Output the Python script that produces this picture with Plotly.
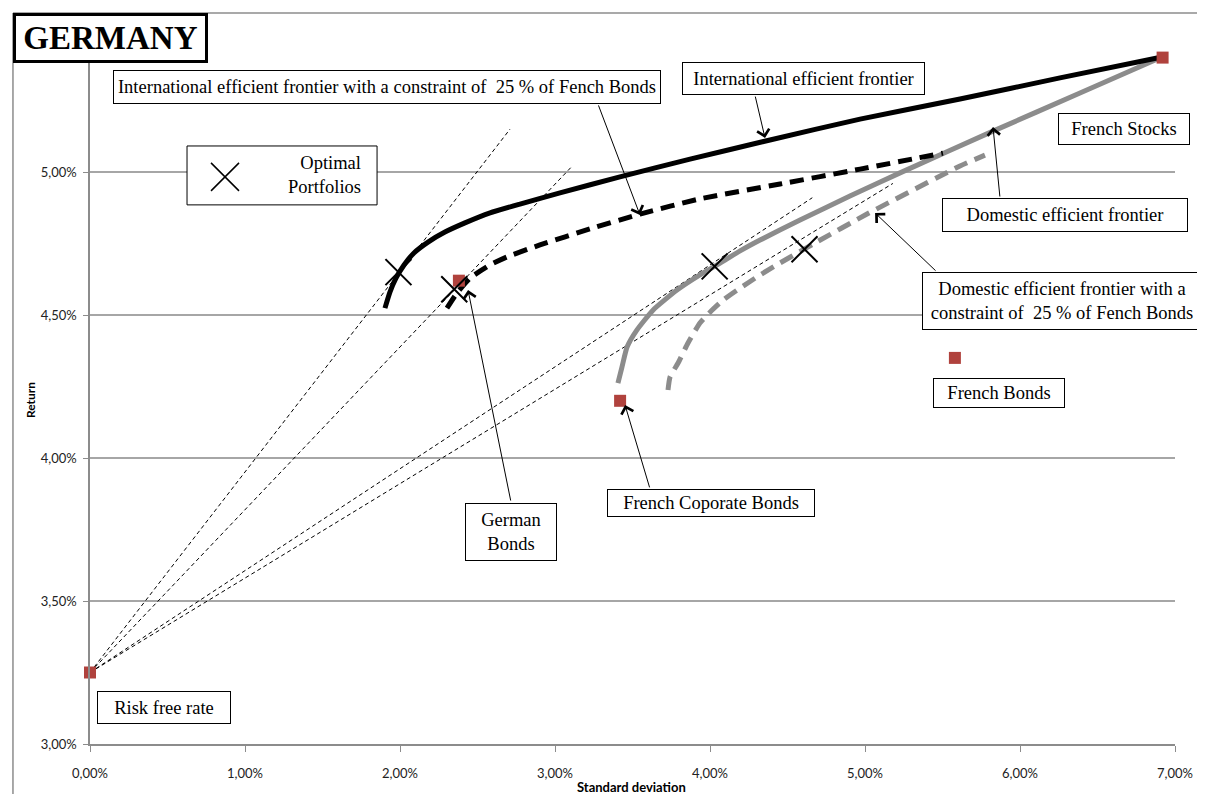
import numpy as np
import plotly.graph_objects as go

# all values in percent
intl_sd = [1.903, 1.935, 1.974, 2.026, 2.090, 2.181, 2.290, 2.419, 2.581, 2.774, 3.032, 3.419,
           3.871, 4.387, 4.968, 5.613, 6.258, 6.916]
intl_ret = [4.524, 4.580, 4.629, 4.675, 4.717, 4.755, 4.790, 4.822, 4.857, 4.888, 4.927, 4.983,
            5.045, 5.112, 5.185, 5.255, 5.329, 5.402]

intl_c_sd = [2.303, 2.368, 2.452, 2.581, 2.690, 2.903, 3.226, 3.548, 3.935, 4.452, 4.968, 5.503]
intl_c_ret = [4.524, 4.577, 4.629, 4.675, 4.703, 4.745, 4.801, 4.853, 4.906, 4.958, 5.010, 5.066]

dom_sd = [3.406, 3.432, 3.465, 3.529, 3.632, 3.787, 3.935, 4.045, 4.194, 4.323, 4.581, 4.903,
          5.226, 5.826, 6.387, 6.916]
dom_ret = [4.262, 4.318, 4.388, 4.448, 4.517, 4.587, 4.640, 4.675, 4.724, 4.762, 4.832, 4.916,
           4.997, 5.143, 5.276, 5.402]

dom_c_sd = [3.729, 3.742, 3.794, 3.858, 3.935, 4.000, 4.084, 4.194, 4.323, 4.452, 4.581, 4.665,
            5.013, 5.613, 5.774]
dom_c_ret = [4.238, 4.283, 4.332, 4.402, 4.472, 4.510, 4.552, 4.594, 4.640, 4.682, 4.722, 4.748,
             4.853, 5.021, 5.059]

assets = ["Risk free rate", "German Bonds", "French Coporate Bonds", "French Bonds", "French Stocks"]
asset_sd = [0.00, 2.38, 3.42, 5.58, 6.92]
asset_ret = [3.25, 4.62, 4.20, 4.35, 5.40]

optimal_sd = [1.99, 2.35, 4.03, 4.61]
optimal_ret = [4.65, 4.59, 4.67, 4.73]

# capital market lines from the risk free rate, end points
cml_end_sd = [2.71, 3.11, 4.66, 5.18]
cml_end_ret = [5.15, 5.02, 4.91, 4.96]

x_ticks = [0, 1, 2, 3, 4, 5, 6, 7]
y_ticks = [3.0, 3.5, 4.0, 4.5, 5.0, 5.5]
y_ticktext = ["3,00%", "3,50%", "4,00%", "4,50%", "5,00%", ""]  # 5,50% sits under the title box

rf_sd, rf_ret = asset_sd[0], asset_ret[0]


def pct(v):
    return np.array(v) / 100.0


SERIF = "Liberation Serif"
SANS = "Lato"
BOX_FONT = dict(family=SERIF, size=18.5, color="black")

fig = go.Figure()

for esd, eret in zip(cml_end_sd, cml_end_ret):
    fig.add_trace(go.Scatter(x=pct([rf_sd, esd]), y=pct([rf_ret, eret]), mode="lines",
                             line=dict(color="black", width=1, dash="4px,3px")))

fig.add_trace(go.Scatter(x=pct(dom_sd), y=pct(dom_ret), mode="lines",
                         line=dict(color="#8c8c8c", width=5, shape="spline", smoothing=0.5)))
fig.add_trace(go.Scatter(x=pct(dom_c_sd), y=pct(dom_c_ret), mode="lines",
                         line=dict(color="#8c8c8c", width=5, dash="14px,8px", shape="spline", smoothing=0.5)))
fig.add_trace(go.Scatter(x=pct(intl_sd), y=pct(intl_ret), mode="lines",
                         line=dict(color="black", width=5, shape="spline", smoothing=0.5)))
fig.add_trace(go.Scatter(x=pct(intl_c_sd), y=pct(intl_c_ret), mode="lines",
                         line=dict(color="black", width=5, dash="14px,8px", shape="spline", smoothing=0.5)))

fig.add_trace(go.Scatter(x=pct(asset_sd), y=pct(asset_ret), mode="markers", text=assets,
                         marker=dict(symbol="square", size=12, color="#b0423d"),
                         cliponaxis=False))
fig.add_trace(go.Scatter(x=pct(optimal_sd), y=pct(optimal_ret), mode="markers",
                         marker=dict(symbol="x-thin", size=26, line=dict(color="black", width=2))))
# key of the "Optimal Portfolios" box
fig.add_trace(go.Scatter(x=[0.00871], y=[0.04983], mode="markers",
                         marker=dict(symbol="x-thin", size=28, line=dict(color="black", width=1.5))))

boxes = [
    ("International efficient frontier with a constraint of  25 % of Fench Bonds", 1.916, 5.297, 546, 32),
    ("International efficient frontier", 4.600, 5.326, 241, 31),
    ("French Stocks", 6.671, 5.150, 130, 30),
    ("Domestic efficient frontier", 6.290, 4.850, 244, 32),
    ("Domestic efficient frontier with a<br>constraint of  25 % of Fench Bonds", 6.271, 4.549, 278, 56),
    ("French Bonds", 5.865, 4.227, 130, 28),
    ("French Coporate Bonds", 4.006, 3.843, 206, 26),
    ("German<br>Bonds", 2.716, 3.741, 90, 56),
    ("Risk free rate", 0.477, 3.128, 132, 31),
]

arrows = [
    (3.277, 5.238, 3.548, 4.850),
    (4.290, 5.269, 4.355, 5.119),
    (5.871, 4.909, 5.826, 5.157),
    (5.465, 4.650, 5.065, 4.857),
    (3.613, 3.892, 3.452, 4.185),
    (2.716, 3.846, 2.439, 4.587),
]

annotations = []
for (tx, ty, hx, hy) in arrows:
    annotations.append(dict(x=hx / 100, y=hy / 100, ax=tx / 100, ay=ty / 100,
                            xref="x", yref="y", axref="x", ayref="y", text="",
                            showarrow=True, arrowhead=4, arrowsize=2.4, arrowwidth=1,
                            arrowcolor="black"))
for text, bx, by, w, h in boxes:
    annotations.append(dict(x=bx / 100, y=by / 100, xref="x", yref="y", text=text,
                            xanchor="center", yanchor="middle",
                            showarrow=False, width=w, height=h, align="center", valign="middle",
                            bgcolor="white", bordercolor="black", borderwidth=1, borderpad=0,
                            font=BOX_FONT))

annotations.append(dict(x=0.01762, y=0.04988, xref="x", yref="y", text="Optimal<br>Portfolios",
                        xanchor="right", yanchor="middle", align="right", showarrow=False,
                        font=BOX_FONT))
annotations.append(dict(x=0.0189, y=0.9874, xref="paper", yref="paper", text="<b>GERMANY</b>",
                        xanchor="center", yanchor="middle",
                        showarrow=False, width=189, height=44, bgcolor="white",
                        bordercolor="black", borderwidth=3, borderpad=0,
                        font=dict(family=SERIF, size=33, color="black")))
annotations.append(dict(x=0.4995, y=-0.0601, xref="paper", yref="paper", text="<b>Standard deviation</b>",
                        xanchor="center", yanchor="middle",
                        showarrow=False, font=dict(family=SANS, size=13, color="black")))
annotations.append(dict(x=-0.0553, y=0.481, xref="paper", yref="paper", text="<b>Return</b>",
                        xanchor="center", yanchor="middle",
                        showarrow=False, textangle=-90, font=dict(family=SANS, size=12, color="black")))

frame = dict(type="line", xref="paper", yref="paper", line=dict(color="#8c8c8c", width=1.5))
shapes = [
    dict(frame, x0=-0.071, y0=1.0224, x1=1.03, y1=1.0224),
    dict(frame, x0=-0.071, y0=1.0224, x1=-0.071, y1=-0.08),
    # box around the "Optimal Portfolios" key, under the traces
    dict(type="rect", xref="x", yref="y", x0=0.00626, x1=0.01852, y0=0.04885, y1=0.05091,
         layer="between", fillcolor="white", line=dict(color="black", width=1)),
]

fig.update_layout(
    width=1197, height=786,
    margin=dict(l=82, r=30, t=21, b=50),
    paper_bgcolor="white", plot_bgcolor="white",
    showlegend=False,
    separators=", ",
    annotations=annotations,
    shapes=shapes,
    xaxis=dict(range=[0, 0.07], tickvals=pct(x_ticks), tickformat=".2%", showgrid=False, zeroline=False,
               showline=True, linecolor="#8c8c8c", linewidth=1.5, ticks="outside", ticklen=6,
               tickcolor="#8c8c8c", ticklabelstandoff=11,
               tickfont=dict(family=SANS, size=13, color="#222")),
    yaxis=dict(range=[0.03, 0.055], tickvals=pct(y_ticks), ticktext=y_ticktext, showgrid=True,
               gridcolor="#a6a6a6", gridwidth=1.5, zeroline=False,
               showline=True, linecolor="#8c8c8c", linewidth=1.5, ticks="outside", ticklen=5,
               tickcolor="#8c8c8c", ticklabelstandoff=4,
               tickfont=dict(family=SANS, size=13, color="#222")),
)

fig.write_html("out.html")
